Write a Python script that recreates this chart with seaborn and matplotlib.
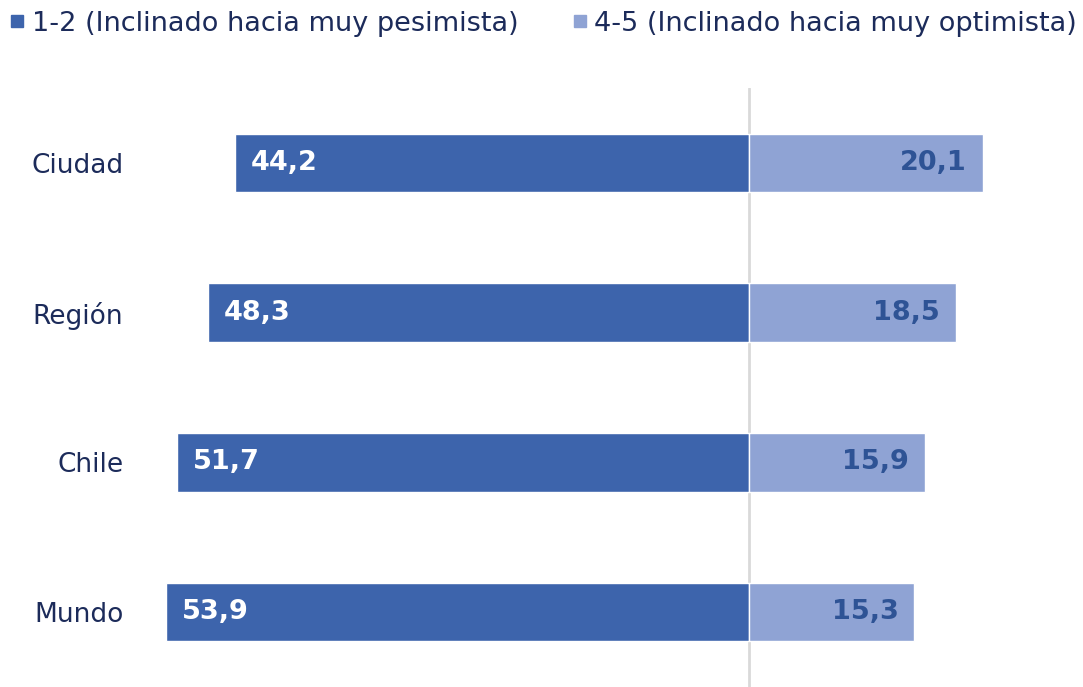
import numpy as np
import pandas as pd
import matplotlib
matplotlib.use('Agg')
import matplotlib.pyplot as plt
import seaborn as sns
from matplotlib.lines import Line2D

# data
lugares = ['Ciudad', 'Región', 'Chile', 'Mundo']
pesimista = [44.2, 48.3, 51.7, 53.9]
optimista = [20.1, 18.5, 15.9, 15.3]
series = ['1-2 (Inclinado hacia muy pesimista)', '4-5 (Inclinado hacia muy optimista)']

DARK = '#3D64AC'
LIGHT = '#8FA3D4'
NAVY = '#1C2B5A'
LABEL_BLUE = '#2E5395'

sns.set_theme(style='white')
plt.rcParams['font.family'] = ['DejaVu Sans']

# bars are shown as shares of (pessimists + optimists), split at the center line
df = pd.DataFrame({'lugar': lugares, 'pes': pesimista, 'opt': optimista})
total = df['pes'] + df['opt']
df['neg'] = -df['pes'] / total * 100
df['pos'] = df['opt'] / total * 100

fig = plt.figure(figsize=(10.83, 6.87), dpi=100)
ax = fig.add_axes([140 / 1083, 0, 943 / 1083, 599 / 687])

sns.barplot(data=df, x='neg', y='lugar', order=lugares, color=DARK, width=0.39,
            orient='h', edgecolor='white', linewidth=1, saturation=1, ax=ax, zorder=3)
sns.barplot(data=df, x='pos', y='lugar', order=lugares, color=LIGHT, width=0.39,
            orient='h', edgecolor='white', linewidth=1, saturation=1, ax=ax, zorder=3)

ax.axvline(0, color='#D9D9D9', lw=2, zorder=1)

ax.set_xlim(-81.42, 44.65)
ax.set_ylim(3.5, -0.5)
ax.set_xlabel('')
ax.set_ylabel('')
ax.set_xticks([])
ax.tick_params(axis='y', length=0, pad=12, labelsize=19, labelcolor=NAVY)
sns.despine(ax=ax, left=True, bottom=True)

def fmt(v):
    return f'{v:.1f}'.replace('.', ',')

for i, row in df.iterrows():
    ax.annotate(fmt(row['pes']), xy=(row['neg'], i), xytext=(11.5, 0),
                textcoords='offset points', ha='left', va='center',
                color='white', fontsize=19.5, fontweight='bold', zorder=4)
    ax.annotate(fmt(row['opt']), xy=(row['pos'], i), xytext=(-11.5, 0),
                textcoords='offset points', ha='right', va='center',
                color=LABEL_BLUE, fontsize=19.5, fontweight='bold', zorder=4)

handles = [Line2D([], [], marker='s', ls='', color=c, markersize=8.5) for c in (DARK, LIGHT)]
leg = fig.legend(handles, series, loc='upper left', bbox_to_anchor=(-0.008, 1.012), ncol=2,
                 frameon=False, fontsize=19.5, handlelength=0.5, handletextpad=0.3,
                 columnspacing=2.0, borderaxespad=0.3)
for t in leg.get_texts():
    t.set_color(NAVY)

fig.savefig('out.png', dpi=100)
